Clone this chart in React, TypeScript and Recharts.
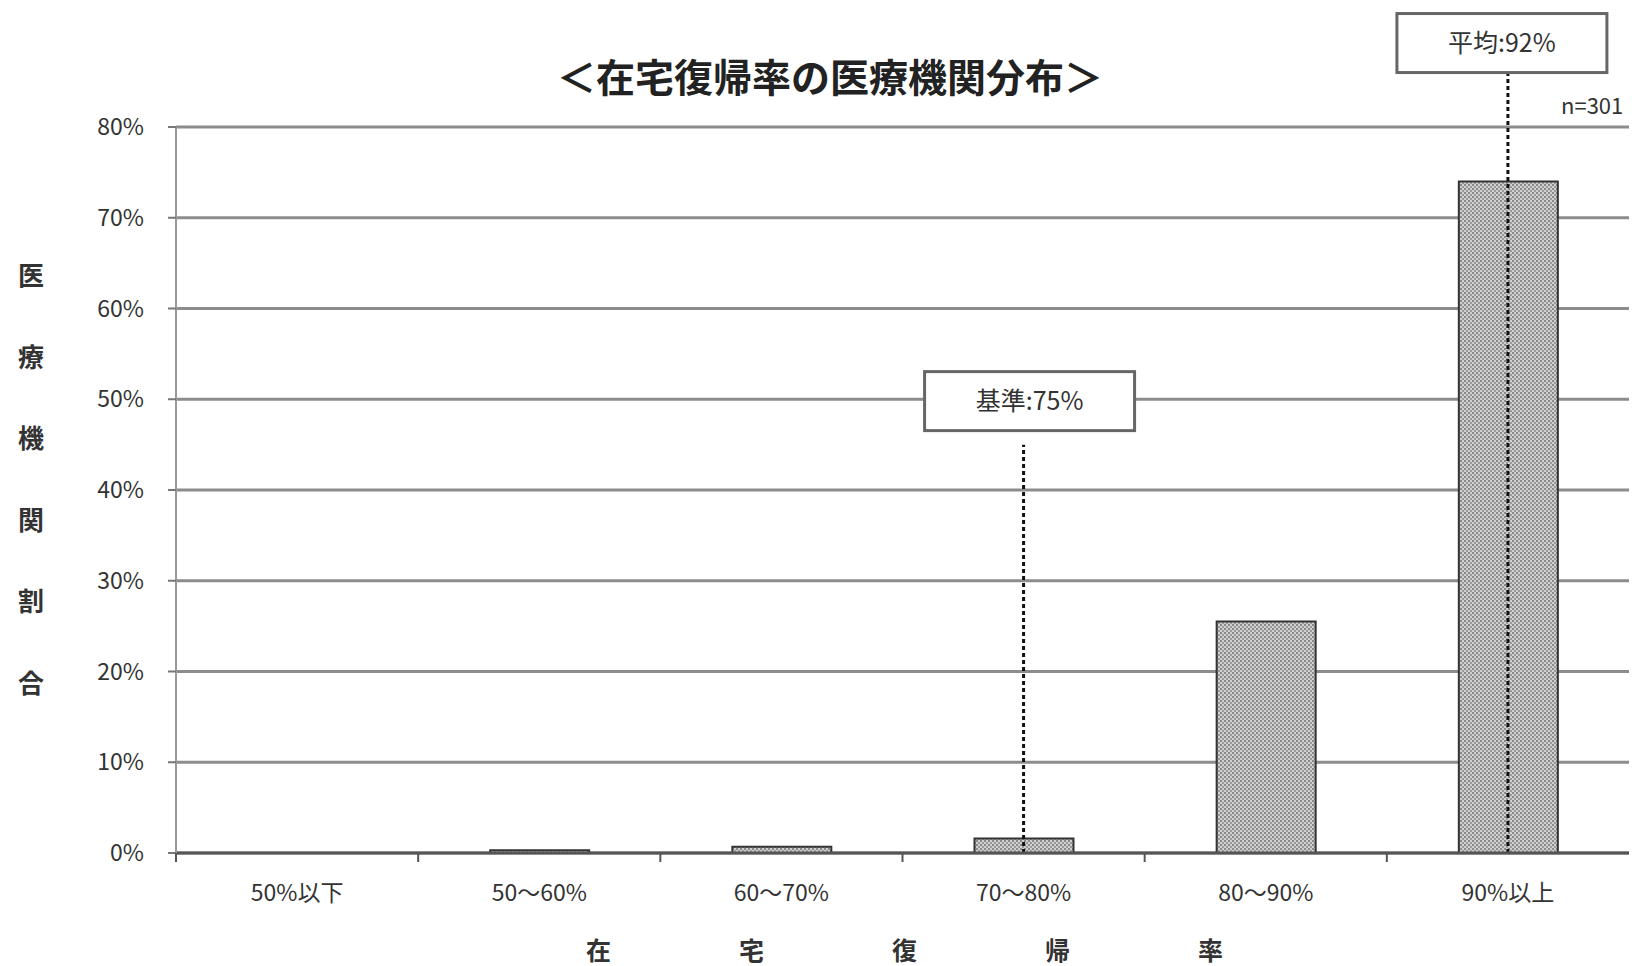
import React from "react";
import { BarChart, Bar, XAxis, YAxis, CartesianGrid, ReferenceLine } from "recharts";

// share of institutions by home-discharge rate band (n=301)
const categories = ["50%以下", "50～60%", "60～70%", "70～80%", "80～90%", "90%以上"];
const shares = [0, 0.3, 0.7, 1.6, 25.5, 74];
const yTicks = [0, 10, 20, 30, 40, 50, 60, 70, 80];

const title = "＜在宅復帰率の医療機関分布＞";
const xTitleChars = ["在", "宅", "復", "帰", "率"];
const yTitleChars = ["医", "療", "機", "関", "割", "合"];
const benchmarkLabel = "基準:75%";
const averageLabel = "平均:92%";
const sampleNote = "n=301";

const data = categories.map((name, i) => ({ name, share: shares[i] }));

const W = 1638;
const H = 966;
const LEFT = 176;
const RIGHT = 9;
const HALF_BAND = (W - LEFT - RIGHT) / categories.length / 2;
const FONT = '"Noto Sans CJK JP", "Noto Sans", sans-serif';

function XTick({ x, y, payload }: any) {
  return (
    <g>
      <line x1={x - HALF_BAND} x2={x - HALF_BAND} y1={y} y2={y + 9} stroke="#555" strokeWidth={2} />
      <text x={x} y={y + 48} textAnchor="middle" fontSize={23} fill="#333" fontFamily={FONT}>
        {payload.value}
      </text>
    </g>
  );
}

function BoxLabel({ viewBox, text, gap, dx }: any) {
  const w = 210;
  const h = 59;
  const cx = viewBox.x + dx;
  const bottom = viewBox.y - gap;
  return (
    <g>
      <rect x={cx - w / 2} y={bottom - h} width={w} height={h} fill="#fff" stroke="#666" strokeWidth={3} />
      <text x={cx} y={bottom - h / 2 + 9} textAnchor="middle" fontSize={25} fill="#333" fontFamily={FONT}>
        {text}
      </text>
    </g>
  );
}

export default function App() {
  return (
    <div style={{ position: "absolute", left: 0, top: 0, width: W, height: H, background: "#fff", fontFamily: FONT }}>
      <div
        style={{
          position: "absolute",
          left: 480,
          width: 700,
          top: 53,
          textAlign: "center",
          fontSize: 39,
          lineHeight: "44px",
          fontWeight: 700,
          color: "#222",
        }}
      >
        {title}
      </div>
      <div style={{ position: "absolute", left: 1561, top: 88, fontSize: 22, color: "#333" }}>{sampleNote}</div>
      {yTitleChars.map((c, i) => (
        <div
          key={c}
          style={{
            position: "absolute",
            left: 18,
            top: 260 + i * 81.5,
            fontSize: 26,
            fontWeight: 700,
            color: "#333",
            lineHeight: "28px",
          }}
        >
          {c}
        </div>
      ))}
      {xTitleChars.map((c, i) => (
        <div
          key={c}
          style={{
            position: "absolute",
            left: 586 + i * 153,
            top: 936,
            fontSize: 25,
            fontWeight: 700,
            color: "#333",
            lineHeight: "27px",
          }}
        >
          {c}
        </div>
      ))}
      <div style={{ position: "absolute", left: 0, top: 0 }}>
        <BarChart width={W} height={H} data={data} margin={{ top: 127, right: RIGHT, bottom: 83, left: 0 }}>
          <defs>
            <pattern id="stipple" width="4" height="4" patternUnits="userSpaceOnUse">
              <rect width="4" height="4" fill="#d0d0d0" />
              <rect width="2" height="2" fill="#8a8a8a" />
              <rect x="2" y="2" width="2" height="2" fill="#9a9a9a" />
            </pattern>
          </defs>
          <CartesianGrid vertical={false} stroke="#8c8c8c" strokeWidth={3} />
          <XAxis
            dataKey="name"
            axisLine={{ stroke: "#555", strokeWidth: 3 }}
            tickLine={false}
            tickSize={0}
            tickMargin={0}
            tick={<XTick />}
            interval={0}
          />
          <YAxis
            width={LEFT}
            domain={[0, 80]}
            ticks={yTicks}
            interval={0}
            allowDataOverflow
            tickFormatter={(v) => `${v}%`}
            axisLine={{ stroke: "#999", strokeWidth: 2 }}
            tickLine={{ stroke: "#777", strokeWidth: 2 }}
            tickSize={8}
            tickMargin={24}
            tick={{ fontSize: 23, fill: "#333", fontFamily: FONT }}
          />
          <Bar
            dataKey="share"
            barSize={99}
            fill="url(#stipple)"
            stroke="#333"
            strokeWidth={2}
            isAnimationActive={false}
          />
          <ReferenceLine
            segment={[
              { x: categories[3], y: 0 },
              { x: categories[3], y: 45 },
            ]}
            stroke="#111"
            strokeWidth={3}
            strokeDasharray="4 3"
            label={<BoxLabel text={benchmarkLabel} gap={14} dx={6} />}
          />
          <ReferenceLine
            segment={[
              { x: categories[5], y: 0 },
              { x: categories[5], y: 86 },
            ]}
            ifOverflow="visible"
            stroke="#111"
            strokeWidth={3}
            strokeDasharray="4 3"
            label={<BoxLabel text={averageLabel} gap={0} dx={-6} />}
          />
        </BarChart>
      </div>
    </div>
  );
}
